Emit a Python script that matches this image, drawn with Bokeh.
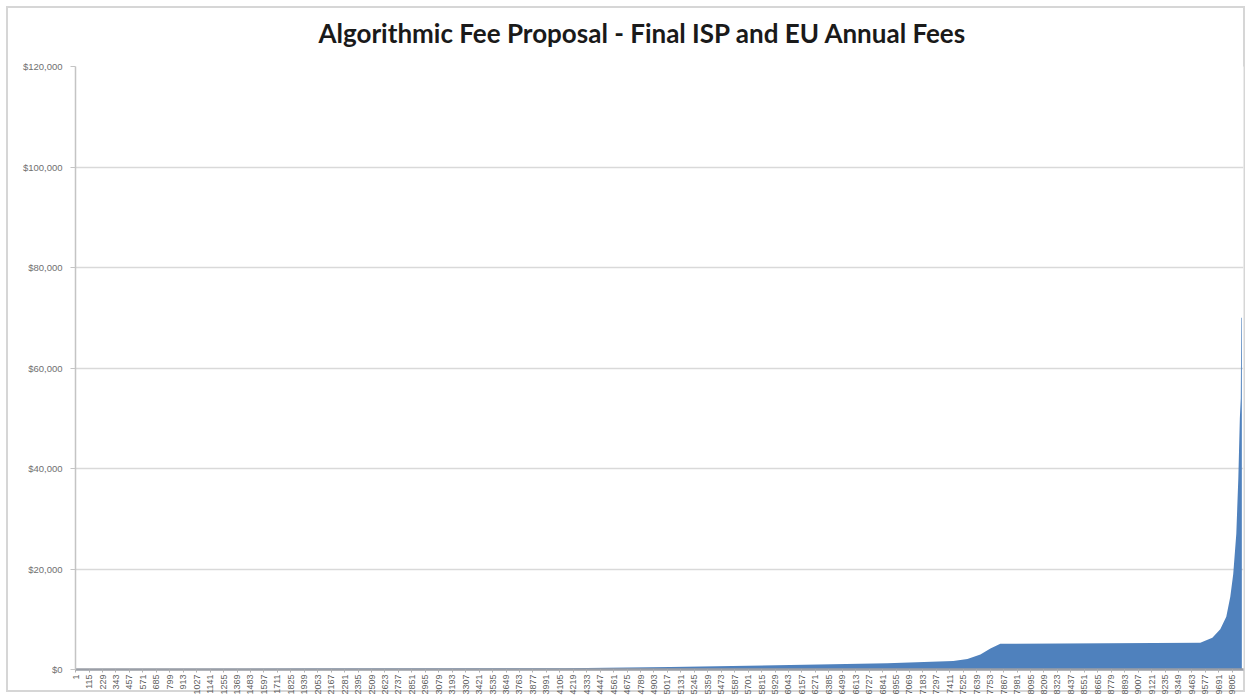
import math
from bokeh.plotting import figure
from bokeh.models import Range1d, FixedTicker, NumeralTickFormatter
from bokeh.embed import file_html
from bokeh.resources import INLINE

# ---- data (rank of ISP/EU sorted by fee, annual fee in $) ----
rank = [1, 2000, 4150, 5040, 5700, 6300, 6880, 7440, 7560, 7670, 7755, 7839,
        9534, 9636, 9703, 9754, 9788, 9813, 9839, 9856, 9869, 9877, 9881, 9886]
fee = [100, 180, 250, 500, 750, 1000, 1250, 1700, 2100, 3000, 4200, 5100,
       5300, 6300, 8000, 10500, 14500, 19000, 27000, 38000, 50000, 54000, 70000, 70000]

tick_labels = [1, 115, 229, 343, 457, 571, 685, 799, 913, 1027, 1141, 1255, 1369,
               1483, 1597, 1711, 1825, 1939, 2053, 2167, 2281, 2395, 2509, 2623,
               2737, 2851, 2965, 3079, 3193, 3307, 3421, 3535, 3649, 3763, 3877,
               3991, 4105, 4219, 4333, 4447, 4561, 4675, 4789, 4903, 5017, 5131,
               5245, 5359, 5473, 5587, 5701, 5815, 5929, 6043, 6157, 6271, 6385,
               6499, 6613, 6727, 6841, 6955, 7069, 7183, 7297, 7411, 7525, 7639,
               7753, 7867, 7981, 8095, 8209, 8323, 8437, 8551, 8665, 8779, 8893,
               9007, 9121, 9235, 9349, 9463, 9577, 9691, 9805]
y_ticks = [0, 20000, 40000, 60000, 80000, 100000, 120000]

title = "Algorithmic Fee Proposal - Final ISP and EU Annual Fees"

p = figure(width=1251, height=698, output_backend="svg", toolbar_location=None,
           x_range=Range1d(0, 9900), y_range=Range1d(0, 120000),
           min_border_left=75, min_border_right=8, min_border_top=66,
           min_border_bottom=29, title=title)
p.outline_line_color = None
p.background_fill_color = "white"
p.border_fill_color = None
# outer chart border, drawn by the page element behind the transparent border area
p.styles = {"background-color": "white",
            "box-shadow": "inset 0 0 0 6px white, inset 0 0 0 8px #d6d6d6"}

p.title.text_font = "Lato"
p.title.text_font_size = "26px"
p.title.text_font_style = "bold"
p.title.text_color = "#1a1a1a"
p.title.align = "left"
p.title.offset = 243
p.title.vertical_align = "top"
p.title.standoff = 31

p.varea(x=rank, y1=0, y2=fee, fill_color="#4f81bd")

p.xgrid.visible = False
p.ygrid.ticker = FixedTicker(ticks=y_ticks)
p.ygrid.grid_line_color = "#d9d9d9"
p.ygrid.grid_line_width = 1.5

xa = p.xaxis[0]
xa.ticker = FixedTicker(ticks=tick_labels)
xa.major_label_orientation = math.pi / 2
xa.major_label_text_font = "Liberation Sans"
xa.major_label_text_font_size = "9px"
xa.major_label_text_color = "#606060"
xa.axis_line_color = "#9a9ea6"
xa.axis_line_width = 2.5
xa.major_tick_out = 3
xa.major_tick_in = 0
xa.major_tick_line_color = "#b0b0b0"
xa.minor_tick_line_color = None
xa.major_label_standoff = 2

ya = p.yaxis[0]
ya.ticker = FixedTicker(ticks=y_ticks)
ya.formatter = NumeralTickFormatter(format="$0,0")
ya.major_label_text_font = "Liberation Sans"
ya.major_label_text_font_size = "9.5px"
ya.major_label_text_color = "#707070"
ya.axis_line_color = "#c4c4c4"
ya.axis_line_width = 1.5
ya.major_tick_out = 5
ya.major_tick_in = 0
ya.major_tick_line_color = "#c4c4c4"
ya.minor_tick_line_color = None
ya.major_label_standoff = 8

open("out.html", "w").write(file_html(p, INLINE))
